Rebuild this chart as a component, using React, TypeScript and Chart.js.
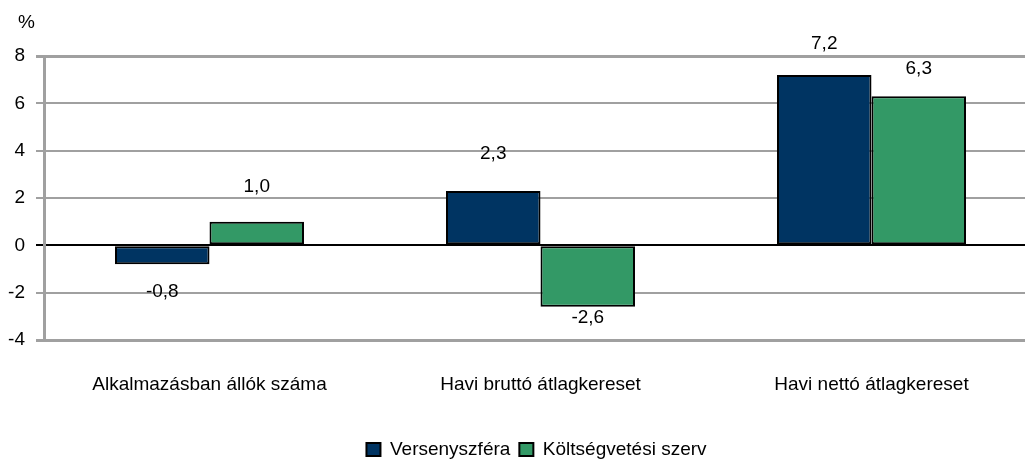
import React, { useEffect, useRef } from "react";
import { Chart, registerables } from "chart.js";

Chart.register(...registerables);

// ---- data ----
const categories = [
  "Alkalmazásban állók száma",
  "Havi bruttó átlagkereset",
  "Havi nettó átlagkereset",
];
const seriesNames = ["Versenyszféra", "Költségvetési szerv"];
const versenyszfera = [-0.8, 2.3, 7.2];
const koltsegvetesi = [1.0, -2.6, 6.3];
const yMin = -4;
const yMax = 8;
const yStep = 2;
const unitLabel = "%";

// ---- styling ----
const FONT = "'Liberation Sans', Arial, sans-serif";
const FONT_SIZE = 19;
const colors = ["#003462", "#339966"];
// distance (px) of each value label from its bar end
const labelGap = [
  [27, 37, 31],
  [35, 11, 27],
];
const LEGEND_SHIFT = 18;

const valueLabels = {
  id: "valueLabels",
  afterDatasetsDraw(chart: any) {
    const ctx = chart.ctx;
    ctx.save();
    ctx.font = `${FONT_SIZE}px ${FONT}`;
    ctx.fillStyle = "#000";
    ctx.textAlign = "center";
    ctx.textBaseline = "middle";
    chart.data.datasets.forEach((ds: any, di: number) => {
      const meta = chart.getDatasetMeta(di);
      meta.data.forEach((bar: any, i: number) => {
        const v = ds.data[i] as number;
        const gap = labelGap[di][i];
        const y = v >= 0 ? bar.y - gap : bar.y + gap;
        ctx.fillText(v.toFixed(1).replace(".", ","), bar.x, y);
      });
    });
    ctx.restore();
  },
};

const unitPlugin = {
  id: "unitPlugin",
  afterDraw(chart: any) {
    const { ctx, chartArea } = chart;
    ctx.save();
    ctx.font = `${FONT_SIZE}px ${FONT}`;
    ctx.fillStyle = "#000";
    ctx.textAlign = "center";
    ctx.textBaseline = "middle";
    ctx.fillText(unitLabel, chartArea.left - 17.5, chartArea.top - 33.5);
    ctx.restore();
  },
};

const legendShift = {
  id: "legendShift",
  afterLayout(chart: any) {
    const l = chart.legend;
    if (l) {
      l.left += LEGEND_SHIFT;
      l.right += LEGEND_SHIFT;
    }
  },
};

export default function App() {
  const ref = useRef<HTMLCanvasElement | null>(null);

  useEffect(() => {
    if (!ref.current) return;
    const font = { size: FONT_SIZE, family: FONT };
    const chart = new Chart(ref.current, {
      type: "bar",
      data: {
        labels: categories,
        datasets: [
          {
            label: seriesNames[0],
            data: versenyszfera,
            backgroundColor: colors[0],
            borderColor: "#000",
            borderWidth: 2,
            borderSkipped: false,
            barPercentage: 1,
            categoryPercentage: 0.571,
          },
          {
            label: seriesNames[1],
            data: koltsegvetesi,
            backgroundColor: colors[1],
            borderColor: "#000",
            borderWidth: 2,
            borderSkipped: false,
            barPercentage: 1,
            categoryPercentage: 0.571,
          },
        ],
      },
      options: {
        responsive: false,
        animation: false,
        layout: { padding: { top: 56, right: 13, left: 0, bottom: 0 } },
        plugins: {
          legend: {
            position: "bottom",
            labels: {
              boxWidth: 14,
              boxHeight: 13,
              padding: 9,
              color: "#000",
              font,
            },
          },
          tooltip: { enabled: false },
        },
        scales: {
          x: {
            grid: { display: false },
            border: { display: false },
            ticks: {
              color: "#000",
              padding: 25,
              font,
              maxRotation: 0,
              autoSkip: false,
            },
            afterFit: (s: any) => {
              s.height = 91;
            },
          },
          y: {
            min: yMin,
            max: yMax,
            ticks: { stepSize: yStep, color: "#000", padding: 11, font },
            grid: {
              color: (c: any) => (c.tick && c.tick.value === 0 ? "#000" : "#a0a0a0"),
              lineWidth: (c: any) =>
                c.tick && (c.tick.value === yMax || c.tick.value === yMin) ? 3 : 2,
              tickLength: 8,
            },
            border: { color: "#a0a0a0", width: 3 },
            afterFit: (s: any) => {
              s.width = 44;
            },
          },
        },
      },
      plugins: [valueLabels, unitPlugin, legendShift],
    } as any);
    return () => chart.destroy();
  }, []);

  return (
    <div
      style={{
        position: "fixed",
        left: 0,
        top: 0,
        width: 1025,
        height: 461,
        overflow: "hidden",
        background: "#fff",
      }}
    >
      <canvas
        ref={ref}
        width={1050}
        height={469}
        style={{ width: 1050, height: 469, display: "block" }}
      />
    </div>
  );
}
